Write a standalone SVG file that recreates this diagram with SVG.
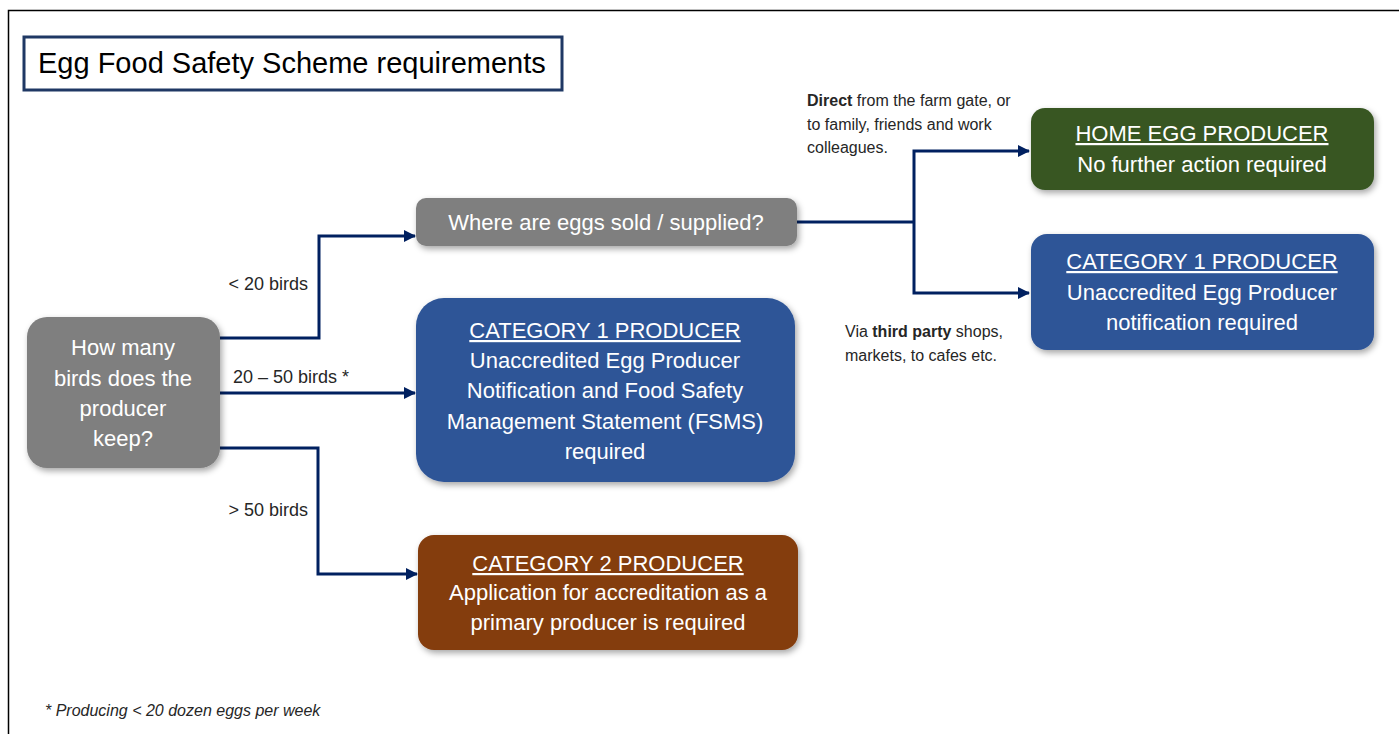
<svg xmlns="http://www.w3.org/2000/svg" width="1399" height="734" viewBox="0 0 1399 734">
<style>
.node text{font-family:"Liberation Sans",Arial,sans-serif;font-size:22px;fill:#ffffff;text-anchor:middle}
.lbl{font-family:"Liberation Sans",Arial,sans-serif;font-size:18px;fill:#262626}
.note{font-family:"Liberation Sans",Arial,sans-serif;font-size:16px;fill:#262626}
.conn path{fill:none;stroke:#002060;stroke-width:3}
.conn path.a{marker-end:url(#arr)}
.hd{text-decoration:underline}
</style>
<defs>
<marker id="arr" markerUnits="userSpaceOnUse" markerWidth="14" markerHeight="14" refX="11" refY="6" orient="auto">
<path d="M0,0 L12,6 L0,12 Z" fill="#002060"/>
</marker>
<filter id="sh" x="-10%" y="-10%" width="125%" height="135%">
<feDropShadow dx="2" dy="3" stdDeviation="3" flood-color="#000" flood-opacity="0.35"/>
</filter>
</defs>
<rect width="1399" height="734" fill="#ffffff"/>
<path d="M8.5,734 V10.5 H1399" fill="none" stroke="#000" stroke-width="1.5"/>
<g id="title">
<rect x="24" y="37" width="538" height="53" fill="#fff" stroke="#1F3864" stroke-width="3"/>
<text x="38" y="73" font-family="'Liberation Sans',Arial,sans-serif" font-size="29" fill="#000">Egg Food Safety Scheme requirements</text>
</g>
<g class="conn" id="connectors">
<path class="a" d="M220,338 H319 V236 H415"/>
<path class="a" d="M220,393 H415"/>
<path class="a" d="M220,448 H318 V574 H417"/>
<path d="M797,222 H914"/>
<path class="a" d="M914,222 V151 H1029"/>
<path class="a" d="M914,222 V293 H1029"/>
</g>
<g id="labels">
<text class="lbl" x="308" y="290" text-anchor="end">&lt; 20 birds</text>
<text class="lbl" x="233" y="383">20 – 50 birds *</text>
<text class="lbl" x="308" y="516" text-anchor="end">&gt; 50 birds</text>
<text class="note" x="807" y="106"><tspan font-weight="bold">Direct</tspan> from the farm gate, or</text>
<text class="note" x="807" y="130">to family, friends and work</text>
<text class="note" x="807" y="153">colleagues.</text>
<text class="note" x="845" y="337">Via <tspan font-weight="bold">third party</tspan> shops,</text>
<text class="note" x="845" y="361">markets, to cafes etc.</text>
<text class="note" x="45" y="716" font-size="14" font-style="italic">* Producing &lt; 20 dozen eggs per week</text>
</g>
<g class="node" id="n-birds">
<rect x="27" y="317" width="193" height="151" rx="20" fill="#7F7F7F" filter="url(#sh)"/>
<text x="123" y="355">How many</text>
<text x="123" y="386">birds does the</text>
<text x="123" y="416">producer</text>
<text x="123" y="446">keep?</text>
</g>
<g class="node" id="n-where">
<rect x="416" y="198" width="381" height="48" rx="10" fill="#7F7F7F" filter="url(#sh)"/>
<text x="606" y="230">Where are eggs sold / supplied?</text>
</g>
<g class="node" id="n-cat1">
<rect x="416" y="298" width="379" height="184" rx="28" fill="#2F5597" filter="url(#sh)"/>
<text x="605" y="338" class="hd">CATEGORY 1 PRODUCER</text>
<text x="605" y="368">Unaccredited Egg Producer</text>
<text x="605" y="398">Notification and Food Safety</text>
<text x="605" y="429">Management Statement (FSMS)</text>
<text x="605" y="459">required</text>
</g>
<g class="node" id="n-cat2">
<rect x="418" y="535" width="380" height="115" rx="16" fill="#843C0C" filter="url(#sh)"/>
<text x="608" y="571" class="hd">CATEGORY 2 PRODUCER</text>
<text x="608" y="600">Application for accreditation as a</text>
<text x="608" y="630">primary producer is required</text>
</g>
<g class="node" id="n-home">
<rect x="1031" y="108" width="343" height="82" rx="14" fill="#385723" filter="url(#sh)"/>
<text x="1202" y="141" class="hd">HOME EGG PRODUCER</text>
<text x="1202" y="172">No further action required</text>
</g>
<g class="node" id="n-cat1b">
<rect x="1031" y="234" width="343" height="116" rx="16" fill="#2F5597" filter="url(#sh)"/>
<text x="1202" y="269" class="hd">CATEGORY 1 PRODUCER</text>
<text x="1202" y="300">Unaccredited Egg Producer</text>
<text x="1202" y="330">notification required</text>
</g>
</svg>
